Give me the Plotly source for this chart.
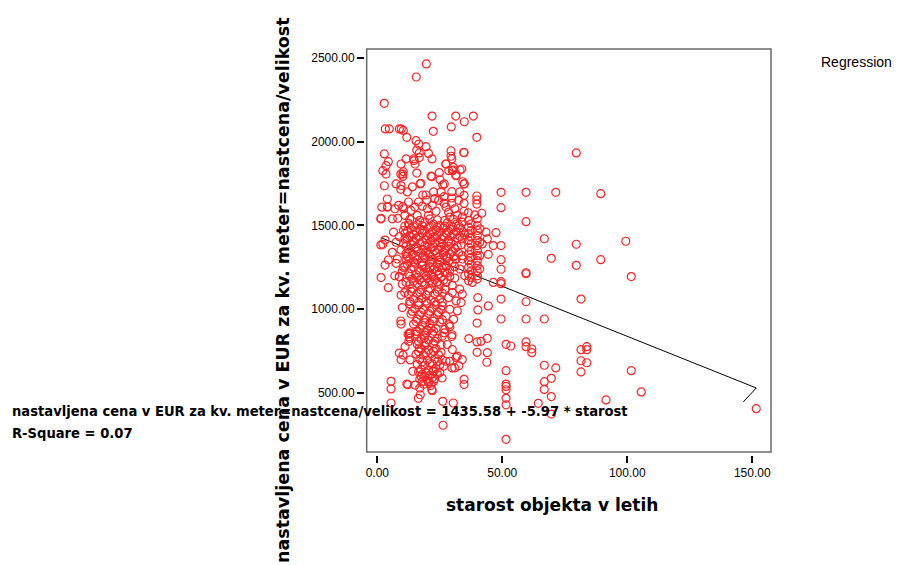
import plotly.graph_objects as go

# ---- data: building age (years) vs. asking price per m2 (EUR) ----
# upper part of the cloud (above ~1700 EUR)
starost_gornji = [19.6, 15.6, 2.8, 21.9, 31.4, 38.4, 34.8, 29.6, 22.4, 39.8,
                  3.2, 4.8, 8.8, 9.6, 10.4, 11.8, 15.5, 16.6, 19.5, 29.5,
                  29.5, 34.6, 2.8, 4.4, 3.5, 2.2, 3.5, 2.8, 9.5, 11.5,
                  14.6, 15.1, 16.8, 16.8, 15.8, 21.9, 27.5, 29.8, 30.4, 33.8,
                  10.2, 10.2, 15.8, 21.5, 25.1, 28.6, 30.0, 31.5, 34.2, 34.8,
                  7.5, 9.5, 17.1, 26.8, 9.4, 9.4, 10.4, 14.7, 17.4, 21.8,
                  24.8, 27.4, 26.2, 30.4, 31.4, 33.1, 34.7, 34.7, 20.5, 12.0]
cena_gornji = [2464, 2386, 2229, 2153, 2153, 2153, 2119, 2088, 2062, 2026,
               2076, 2076, 2076, 2076, 2067, 2026, 2006, 1986, 1970, 1946,
               1913, 1937, 1927, 1881, 1857, 1827, 1807, 1737, 1867, 1897,
               1897, 1867, 1933, 1905, 1950, 1897, 1867, 1897, 1847, 1837,
               1807, 1793, 1813, 1794, 1773, 1827, 1827, 1797, 1761, 1749,
               1748, 1738, 1748, 1748, 1716, 1807, 1821, 1887, 1752, 1791,
               1815, 1867, 1742, 1831, 1801, 1831, 1934, 1748, 1930, 1700]

# 1500 - 1720 EUR
starost_srednji = [18.2, 19.5, 19.8, 29.8, 29.8, 26.7, 26.7, 29.8, 34.7, 34.7,
                   34.7, 39.8, 39.8, 39.8, 41.8, 39.0, 36.4, 4.0, 1.8, 4.0,
                   1.4, 8.5, 10.5, 12.5, 13.5, 15.0, 16.5, 18.0, 20.0, 22.0,
                   23.5, 24.5, 25.5, 27.5, 28.5, 31.0, 32.5, 33.0, 14.0, 22.5,
                   23.0, 20.5, 16.0, 11.0, 7.0, 6.0, 29.0, 32.0, 4.2, 10.2,
                   8.2, 1.5, 12.8,
                   13, 17, 21, 24, 27, 30.5]
cena_srednji = [1682, 1682, 1652, 1702, 1664, 1672, 1632, 1632, 1680, 1632,
                1585, 1676, 1652, 1628, 1573, 1563, 1576, 1658, 1609, 1609,
                1539, 1620, 1600, 1640, 1590, 1610, 1640, 1615, 1600, 1620,
                1585, 1650, 1700, 1610, 1580, 1600, 1650, 1700, 1730, 1700,
                1660, 1560, 1560, 1560, 1600, 1540, 1550, 1560, 1612, 1612,
                1543, 1543, 1503,
                1537, 1531, 1539, 1533, 1530, 1536]

# dense core, 1140 - 1520 EUR
starost_jedro = [12.5, 16, 19, 22.5, 25, 28, 31.5, 34,
                 11, 14.5, 18, 21, 24, 27, 30, 32.5,
                 13.5, 17, 20.5, 23.5, 26.5, 29.5, 33,
                 12, 15.5, 19, 22, 25, 28.5, 31.5, 34.5,
                 11, 14.5, 18, 21, 24, 27.5, 30.5, 35,
                 13, 16.5, 20, 23, 26.5, 29.5, 33,
                 12, 15.5, 19.5, 22, 25.5, 28.5, 32,
                 10.5, 13.5, 17, 20, 23, 26, 29.5, 33.5,
                 11.5, 15.5, 19, 22.5, 25.5, 28.5, 32,
                 12.5, 15, 18.5, 21.5, 24.5, 27, 31,
                 11.5, 14, 17.5, 20.5, 23.5, 26.5, 29, 32.5,
                 12, 15, 18.5, 21.5, 24.5, 27.5, 30.5, 34,
                 13, 16, 19, 22, 25, 28, 31.5,
                 12, 15, 18, 21, 24, 27.5, 30,
                 11, 14.5, 18, 21, 24.5, 27.5, 31,
                 13.5, 16.5, 19.5, 22.5, 26, 29, 33,
                 12.5, 15.5, 18.5, 21.5, 24.5, 28,
                 13, 16, 19.5, 22.5, 25.5, 29,
                 14, 17, 20, 23, 26.5, 31,
                 14.5, 18, 21, 24, 27.5,
                 13, 16, 19, 22, 25, 30,
                 14.5, 18, 21.5, 25, 28.5, 16, 19.5, 23, 26.5, 30,
                 14.5, 18, 21.5, 25, 28.5, 17, 20.5, 24, 27]
cena_jedro = [1512, 1505, 1518, 1508, 1500, 1515, 1506, 1520,
              1497, 1491, 1499, 1493, 1490, 1496, 1494, 1500,
              1482, 1476, 1488, 1474, 1484, 1478, 1486,
              1467, 1461, 1469, 1463, 1460, 1466, 1464, 1458,
              1452, 1446, 1455, 1448, 1441, 1456, 1450, 1444,
              1437, 1431, 1439, 1433, 1430, 1436, 1434,
              1418, 1424, 1415, 1427, 1420, 1412, 1426,
              1392, 1386, 1395, 1384, 1397, 1389, 1393, 1385,
              1377, 1371, 1379, 1373, 1370, 1376, 1374,
              1358, 1364, 1355, 1366, 1361, 1352, 1363,
              1332, 1326, 1335, 1328, 1337, 1324, 1331, 1338,
              1317, 1311, 1319, 1313, 1310, 1316, 1314, 1320,
              1302, 1296, 1305, 1298, 1292, 1306, 1299,
              1268, 1274, 1265, 1276, 1270, 1262, 1277,
              1257, 1251, 1259, 1253, 1250, 1256, 1254,
              1242, 1236, 1245, 1238, 1247, 1233, 1240,
              1212, 1206, 1215, 1204, 1210, 1217,
              1197, 1191, 1199, 1193, 1190, 1196,
              1182, 1176, 1185, 1178, 1174, 1186,
              1167, 1161, 1169, 1163, 1160,
              1148, 1154, 1146, 1156, 1150, 1143,
              1405, 1402, 1408, 1398, 1404, 1345, 1342, 1348, 1340, 1346,
              1285, 1282, 1288, 1280, 1286, 1225, 1222, 1228, 1220]

# columns at roughly 35 - 45 years
starost_stolpec = [36.5, 36.5, 36.5, 36.5, 36.5, 36.5, 36.5, 36.5, 36.5, 36.5,
                   40.0, 40.0, 40.0, 40.0, 40.0, 40.0, 40.0, 40.0, 40.0, 40.0,
                   40.0, 40.0, 40.0, 34.0, 34.0, 34.0, 35.0, 38.0, 43.5, 44.0,
                   44.4, 42.0, 40.2, 40.2, 44.4, 44.0, 44.0, 34.7, 34.7,
                   37.5, 37.5, 37.5, 37.5, 37.5, 37.5, 37.5, 37.5, 37.5,
                   41.0, 41.0, 41.0, 41.0]
cena_stolpec = [1530, 1490, 1450, 1410, 1370, 1330, 1290, 1250, 1210, 1170,
                1540, 1500, 1470, 1440, 1410, 1380, 1350, 1320, 1290, 1260,
                1230, 1200, 1180, 1550, 1420, 1300, 1200, 1160, 1460, 1420,
                1328, 1390, 1069, 996, 1020, 827, 741, 582, 551,
                1510, 1470, 1430, 1390, 1350, 1310, 1270, 1230, 1190,
                1480, 1400, 1320, 1240]

# 550 - 1120 EUR, older buildings of the central group
starost_spodnji = [27, 30, 33, 28.5, 31.5, 26, 29, 32, 27.5, 30.5,
                   34, 33.5, 29, 29.8, 27, 26, 28, 30, 32, 29,
                   26.5, 34, 31, 28.8, 26.8, 29.9, 36.6, 39.9, 39.9, 41.5,
                   39.9, 43.8, 31.5, 32.6, 29.9, 27.5, 25.9, 22.2, 20.6, 17.5,
                   14.2, 12.2, 9.5, 12.8, 12.6, 8.8, 9.5, 5.5, 5.5, 16.8,
                   18.8, 21.5, 15.5]
cena_spodnji = [1120, 1100, 1120, 1070, 1050, 1020, 1000, 990, 960, 940,
                1090, 1040, 896, 837, 880, 840, 790, 760, 720, 690,
                660, 700, 650, 908, 859, 848, 825, 918, 805, 809,
                743, 684, 713, 663, 650, 690, 590, 630, 570, 600,
                630, 550, 912, 859, 809, 739, 699, 570, 525, 769,
                829, 888, 869]

# lower band, 12 - 26 years
starost_pas = [14, 17.5, 21, 24.5,
               13.5, 17, 20.5, 24,
               12.5, 16, 19.5, 23, 26,
               14.5, 18, 21.5, 25,
               13, 16.5, 19.5, 23, 26,
               13, 16.5, 20, 23.5,
               15, 18.5, 22, 25.5,
               14, 17.5, 21, 24.5,
               13.5, 17, 20.5, 24,
               16, 19, 22.5, 26,
               15.5, 19, 22.5, 25,
               14.5, 18, 21,
               17, 20, 23.5,
               16, 19.5, 22.5,
               15.5, 19, 22,
               17.5, 20.5, 24,
               16.5, 19.5, 23,
               16, 19, 22.5, 25.5,
               17.5, 20.5, 23.5,
               16.5, 19.5, 22.5, 25.5,
               15.5, 18.5, 21.5, 24.5,
               17, 20, 23, 26,
               18, 21, 24,
               16, 19, 22, 25,
               17.5, 20.5, 23.5,
               16.5, 19.5, 22.5, 25,
               18, 21, 24,
               19, 22,
               17, 20, 23,
               18, 20.5, 22.5,
               18.5, 21.5,
               17, 21.8, 17.2, 16.4, 22, 15.1, 11.8, 13.1, 12.8, 13.1,
               11.1, 9.4, 10.3, 12.3, 13.0]
cena_pas = [1122, 1116, 1125, 1118,
            1107, 1101, 1109, 1103,
            1088, 1094, 1085, 1092, 1096,
            1058, 1064, 1055, 1062,
            1047, 1041, 1049, 1043, 1040,
            1032, 1026, 1035, 1028,
            1002, 996, 1005, 998,
            987, 981, 989, 983,
            972, 966, 975, 968,
            942, 936, 945, 938,
            927, 921, 929, 923,
            912, 906, 915,
            882, 876, 885,
            867, 861, 869,
            852, 846, 855,
            822, 816, 825,
            807, 801, 809,
            792, 786, 795, 788,
            762, 756, 765,
            747, 741, 749, 743,
            732, 726, 735, 728,
            702, 696, 705, 698,
            687, 681, 689,
            672, 666, 675, 668,
            642, 636, 645,
            627, 621, 629, 623,
            612, 606, 615,
            597, 591,
            582, 576, 585,
            567, 561, 569,
            552, 546,
            530, 520, 490, 469, 514, 548, 554, 698, 836, 855,
            777, 930, 727, 851, 827]

# newest buildings (left edge) and the lowest prices
starost_levo = [1.4, 3.1, 3.1, 4.4, 1.5, 4.4, 2.2, 6.5, 8.8, 7.5,
                9.5, 8.8, 9.5, 7.5, 6.0, 8.0, 10.0, 7.0, 10.0, 11.0,
                10.0, 10.5, 11.0, 11.5, 10.5, 11.5, 8.8,
                26.3, 5.5, 26.2, 30.4]
cena_levo = [1384, 1413, 1264, 1294, 1189, 1129, 1388, 1460, 1195, 1274,
             1354, 1433, 1085, 1400, 1340, 1300, 1230, 1200, 1150, 1100,
             1010, 1470, 1420, 1300, 1250, 1160, 1195,
             308, 441, 451, 441]

# older buildings (45 years and more)
starost_staro = [79.6, 49.5, 59.5, 71.4, 89.4, 49.5, 59.5, 47.5, 66.8, 79.6,
                 99.4, 46.4, 49.5, 69.6, 89.4, 49.5, 79.6, 49.5, 59.5, 59.5,
                 101.6, 49.5, 49.5, 46.4, 49.5, 59.5, 81.5, 49.5, 59.5, 66.8,
                 51.5, 53.4, 59.5, 59.5, 61.8, 61.8, 81.5, 83.8, 83.8, 81.5,
                 83.8, 81.5, 66.8, 71.4, 101.6, 51.5, 51.5, 51.5, 51.5, 66.8,
                 69.6, 66.8, 69.6, 105.6, 91.5, 51.5, 51.5, 64.4, 69.6, 51.5,
                 151.6]
cena_staro = [1933, 1698, 1698, 1698, 1690, 1606, 1523, 1457, 1421, 1388,
              1406, 1380, 1380, 1304, 1296, 1296, 1262, 1239, 1218, 1212,
              1195, 1165, 1153, 1160, 1061, 1045, 1061, 942, 942, 942,
              791, 781, 805, 777, 763, 741, 759, 777, 759, 693,
              681, 626, 666, 650, 634, 634, 554, 540, 520, 568,
              588, 522, 479, 507, 459, 469, 430, 439, 375, 224,
              407]

# regression results
b0 = 1435.58
b1 = -5.97
r_kvadrat = 0.07
# closing segment of the fitted-line path
rep_x = [146.4]
rep_y = [447]

x_ticks = [0, 50, 100, 150]
y_ticks = [500, 1000, 1500, 2000, 2500]

y_naslov = "nastavljena cena v EUR za kv. meter=nastcena/velikost"
x_naslov = "starost objekta v letih"

# ---- assemble ----
starost = (starost_gornji + starost_srednji + starost_jedro + starost_stolpec
           + starost_spodnji + starost_pas + starost_levo + starost_staro)
cena = (cena_gornji + cena_srednji + cena_jedro + cena_stolpec
        + cena_spodnji + cena_pas + cena_levo + cena_staro)

x_min, x_max = min(starost), max(starost)
fit_x = [x_min, x_max] + rep_x
fit_y = [b0 + b1 * x_min, b0 + b1 * x_max] + rep_y

W, H = 898, 565
ML, MR, MT, MB = 364, 127, 49, 110
PW, PH = W - ML - MR, H - MT - MB


def px(xp):
    return (xp - ML) / PW


def py(yp):
    return (H - MB - yp) / PH


fig = go.Figure()
fig.add_trace(go.Scatter(x=fit_x, y=fit_y, mode="lines",
                         line=dict(color="black", width=1),
                         hoverinfo="skip", showlegend=False))
fig.add_trace(go.Scatter(x=starost, y=cena, mode="markers",
                         marker=dict(symbol="circle-open", size=8,
                                     color="#ff2424", line=dict(width=1.2)),
                         showlegend=False))

tick_font = dict(family="Liberation Sans, Arial, sans-serif", size=12, color="black")
fig.update_xaxes(domain=[px(366.7), 1], range=[-4.24, 157.5],
                 anchor="free", position=0,
                 tickvals=x_ticks, tickformat=".2f",
                 ticks="outside", ticklen=7, tickwidth=2, tickcolor="black",
                 showgrid=False, zeroline=False, showline=False,
                 tickfont=tick_font)
fig.update_yaxes(domain=[py(452), 1], range=[148.5, 2553],
                 anchor="free", position=0,
                 tickvals=y_ticks, tickformat=".2f",
                 ticks="outside", ticklen=7, tickwidth=2, tickcolor="black",
                 showgrid=False, zeroline=False, showline=False,
                 tickfont=tick_font)

fig.add_shape(type="rect", xref="x domain", yref="y domain",
              x0=0, x1=1, y0=0, y1=1,
              line=dict(color="#6a6a6a", width=1.5), layer="above")

bold_font = dict(family="DejaVu Sans, Verdana, sans-serif", size=17, color="black")
ytitle_font = dict(family="DejaVu Sans, Verdana, sans-serif", size=17.5, color="black")
eq_font = dict(family="DejaVu Sans Condensed, Liberation Sans Narrow, Liberation Sans, sans-serif",
               size=14.6, color="black")

annotations = [
    dict(text="<b>%s</b>" % x_naslov, x=px(552), y=py(505),
         xanchor="center", yanchor="middle", font=bold_font),
    dict(text="<b>%s</b>" % y_naslov, x=px(283), y=py(15), textangle=-90,
         xanchor="center", yanchor="top", font=ytitle_font),
    dict(text="<b>%s = %.2f + %.2f * starost</b>" % (y_naslov, b0, b1),
         x=px(10), y=py(410), xanchor="left", yanchor="middle", font=eq_font),
    dict(text="<b>R-Square = %.2f</b>" % r_kvadrat,
         x=px(10), y=py(432), xanchor="left", yanchor="middle", font=eq_font),
    dict(text="Regression", x=px(819), y=py(62), xanchor="left", yanchor="middle",
         font=dict(family="Liberation Sans, Arial, sans-serif", size=14, color="black")),
]
for a in annotations:
    a.update(xref="paper", yref="paper", showarrow=False)

fig.update_layout(width=W, height=H,
                  margin=dict(l=ML, r=MR, t=MT, b=MB, autoexpand=False),
                  paper_bgcolor="white", plot_bgcolor="white",
                  annotations=annotations, showlegend=False)

fig.write_html("out.html", config={"displayModeBar": False})
